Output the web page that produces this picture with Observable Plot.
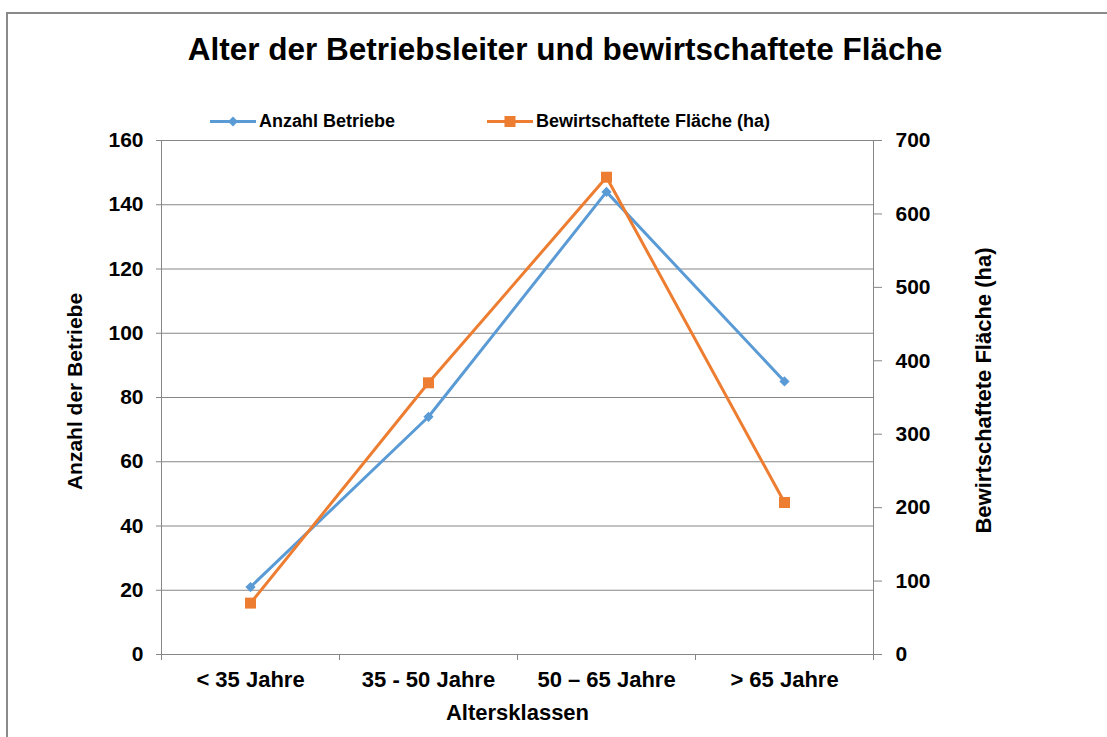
<!DOCTYPE html>
<html>
<head>
<meta charset="utf-8">
<script src="https://cdn.jsdelivr.net/npm/d3@7"></script>
<script src="https://cdn.jsdelivr.net/npm/@observablehq/plot@0.6"></script>
<style>
  html, body { margin: 0; padding: 0; background: #fff; }
  #wrap { position: relative; width: 1107px; height: 737px; overflow: hidden; font-family: "Liberation Sans", Arial, sans-serif; color: #000; }
  #frame { position: absolute; left: 6px; top: 12px; width: 1200px; height: 800px; border-top: 2px solid #8a8a8a; border-left: 2px solid #8a8a8a; }
  #title { position: absolute; left: 0; width: 1130px; top: 31px; text-align: center; font-size: 31.5px; font-weight: bold; white-space: nowrap; }
  .leg { position: absolute; top: 111px; display: flex; align-items: center; font-size: 18px; font-weight: bold; white-space: nowrap; }
  #chart { position: absolute; left: 0; top: 0; }
</style>
</head>
<body>
<div id="wrap">
  <div id="frame"></div>
  <div id="title">Alter der Betriebsleiter und bewirtschaftete Fläche</div>
  <div id="legend"></div>
  <div id="chart"></div>
</div>
<script>
const categories = ["< 35 Jahre", "35 - 50 Jahre", "50 – 65 Jahre", "> 65 Jahre"];
const anzahlBetriebe = [21, 74, 144, 85];
const flaeche = [70, 370, 650, 207];
const leftTicks = [0, 20, 40, 60, 80, 100, 120, 140, 160];
const rightTicks = [0, 100, 200, 300, 400, 500, 600, 700];
const seriesNames = ["Anzahl Betriebe", "Bewirtschaftete Fläche (ha)"];
const colors = ["#5B9BD5", "#ED7D31"];

const leftMax = 160, rightMax = 700;
const toLeft = v => v * leftMax / rightMax;

const blue = categories.map((c, i) => ({i, v: anzahlBetriebe[i]}));
const orange = categories.map((c, i) => ({i, v: toLeft(flaeche[i])}));
const boundaries = d3.range(categories.length + 1).map(k => k - 0.5);

const font = {fontSize: 21, fontWeight: "bold", fill: "#000"};

const plot = Plot.plot({
  width: 1107,
  height: 737,
  marginLeft: 161,
  marginRight: 234,
  marginTop: 140,
  marginBottom: 83,
  style: {fontFamily: "'Liberation Sans', Arial, sans-serif", background: "transparent", overflow: "visible"},
  x: {domain: [-0.5, categories.length - 0.5]},
  y: {domain: [0, leftMax]},
  marks: [
    Plot.gridY(leftTicks, {stroke: "#868686", strokeOpacity: 1, strokeWidth: 1}),
    Plot.ruleX(boundaries.filter((d, k) => k === 0 || k === boundaries.length - 1), {stroke: "#868686", strokeWidth: 1}),
    Plot.axisY(leftTicks, {anchor: "left", tickSize: 5, stroke: "#868686", tickPadding: 13, label: null, ...font}),
    Plot.axisY(rightTicks.map(toLeft), {anchor: "right", tickSize: 8, stroke: "#868686", tickPadding: 14, label: null,
      tickFormat: d => String(Math.round(d * rightMax / leftMax)), ...font}),
    Plot.axisX(boundaries, {anchor: "bottom", tickSize: 6, stroke: "#868686", tickFormat: () => "", label: null}),
    Plot.axisX(d3.range(categories.length), {anchor: "bottom", tickSize: 0, tickPadding: 17, label: null,
      tickFormat: i => categories[i], ...font, fontSize: 22}),
    Plot.line(blue, {x: "i", y: "v", stroke: colors[0], strokeWidth: 3}),
    Plot.line(orange, {x: "i", y: "v", stroke: colors[1], strokeWidth: 3}),
    Plot.dot(blue, {x: "i", y: "v", symbol: "diamond2", r: 4.6, fill: colors[0], stroke: "none"}),
    Plot.dot(orange, {x: "i", y: "v", symbol: "square", r: 6.2, fill: colors[1], stroke: "none"}),
    Plot.text(["Anzahl der Betriebe"], {frameAnchor: "left", dx: -86, dy: -6, rotate: -90, textAnchor: "middle", ...font, fontSize: 21}),
    Plot.text(["Bewirtschaftete Fläche (ha)"], {frameAnchor: "right", dx: 110, dy: -7, rotate: -90, textAnchor: "middle", ...font, fontSize: 22}),
    Plot.text(["Altersklassen"], {frameAnchor: "bottom", dy: 65, ...font, fontSize: 22})
  ]
});
document.getElementById("chart").appendChild(plot);

// legend
const legend = document.getElementById("legend");
const legPos = [210, 487];
seriesNames.forEach((name, k) => {
  const div = document.createElement("div");
  div.className = "leg";
  div.style.left = legPos[k] + "px";
  const marker = k === 0
    ? `<path d="M23,5.5 L28,10.5 L23,15.5 L18,10.5 Z" fill="${colors[0]}"/>`
    : `<rect x="17.5" y="5" width="11" height="11" fill="${colors[1]}"/>`;
  div.innerHTML = `<svg width="46" height="21" style="margin-right:3px"><line x1="0" x2="46" y1="10.5" y2="10.5" stroke="${colors[k]}" stroke-width="3"/>${marker}</svg><span>${name}</span>`;
  legend.appendChild(div);
});
</script>
</body>
</html>
